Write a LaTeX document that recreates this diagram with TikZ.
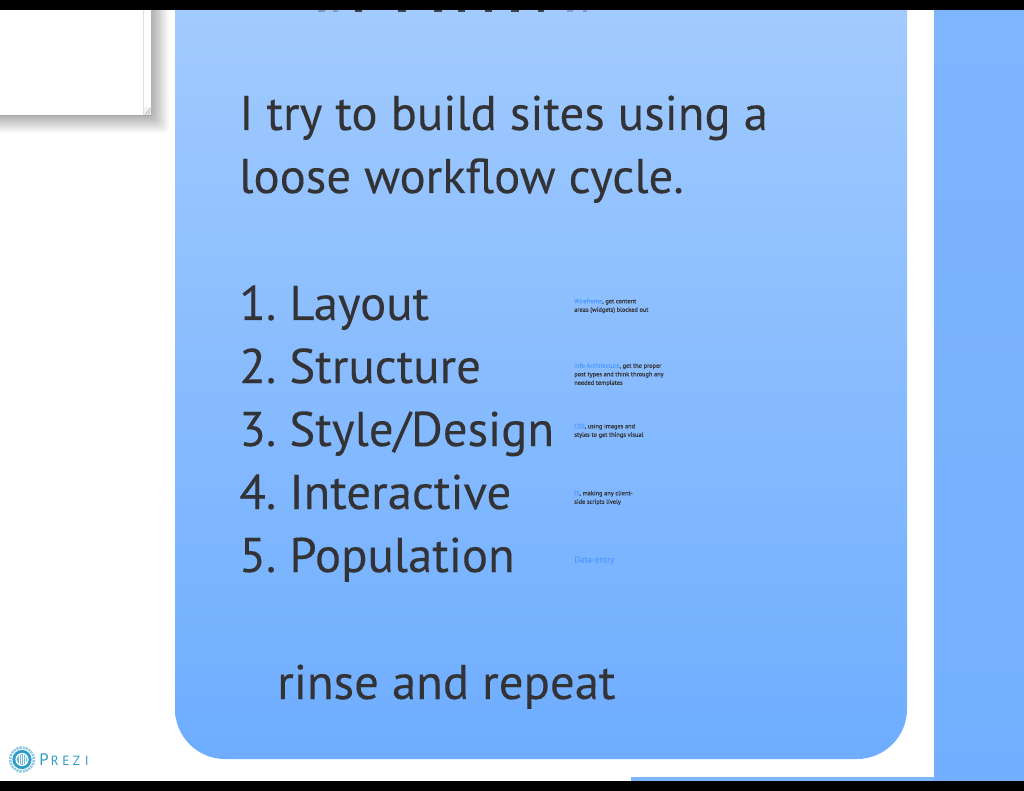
\documentclass[tikz,border=0pt]{standalone}
\usepackage{fontspec}
\setmainfont{PT Sans}
\newfontfamily\heavyfont[FakeBold=0.12]{PT Sans}
\definecolor{ink}{HTML}{333336}
\definecolor{topblue}{HTML}{A6CDFF}
\definecolor{botblue}{HTML}{6EADFF}
\definecolor{sidetop}{HTML}{7EB5FF}
\definecolor{sidebot}{HTML}{74AFFF}
\definecolor{linkblue}{HTML}{4F9BFF}
\definecolor{prezi}{HTML}{2E9CC8}
\tikzset{
  mainline/.style={anchor=base west,inner sep=0pt,text=ink,font=\heavyfont\fontsize{36.6}{36.6}\selectfont},
  smallnote/.style={anchor=north west,inner sep=0pt,text=ink,align=left,font=\heavyfont\fontsize{4.75}{6.4}\selectfont},
  logoletter/.style={inner sep=0pt,anchor=base west,text=prezi,font=\fontsize{10}{10}\selectfont}
}
\newcommand{\lk}[1]{\textcolor{linkblue}{#1}}
\newcommand{\numgap}{\hspace{-3.2pt}}
\begin{document}
\begin{tikzpicture}[x=0.75pt,y=-0.75pt]
\useasboundingbox (0,0) rectangle (1024,791);
\fill[white] (0,0) rectangle (1024,791);
% side band
\shade[top color=sidetop,bottom color=sidebot] (934,0) rectangle (1024,791);
\fill[sidetop] (631,777) rectangle (934,781);
% card
\shade[top color=topblue,bottom color=botblue,rounded corners=37.5pt] (175,-60) rectangle (907,759);
% popup with shadow
\foreach \i in {1,...,20}{
  \fill[black,opacity=0.016,rounded corners=3pt] (-20,0) rectangle (151+\i*0.9,115+\i*0.9);
}
\fill[white] (-5,0) rectangle (152,116);
\fill[black!12] (143,10) rectangle (144,116);
\fill[black!30] (150.5,10) rectangle (152,116);
\fill[black!35] (0,115) rectangle (152,116.5);
\fill[black!5] (143.5,107) rectangle (151,115);
\draw[black!35,line width=0.4pt] (145,114.5) -- (150.5,108.5) (147.5,114.5) -- (150.5,111.5);
% title fragments
\foreach \xa/\xb/\sh in {318/325/35,333/338/30,355/362/90,398/406/90,434/442/90,458/465/90,485/492/90,511/519/90,538/544/90,567/573/30,583/587/30}{
  \fill[ink!\sh!topblue] (\xa,9) rectangle (\xb,12.5);
}
% main text
\node[mainline] (l1) at (239,130) {I try to build sites using a};
\node[mainline] (l2) at (239,193) {loose workf{}low cycle.};
\node[mainline] (i1) at (239,320) {1.\numgap{} Layout};
\node[mainline] (i2) at (239,383) {2.\numgap{} Structure};
\node[mainline] (i3) at (239,446) {3.\numgap{} Style/Design};
\node[mainline] (i4) at (239,509) {4.\numgap{} Interactive};
\node[mainline] (i5) at (239,572) {5.\numgap{} Population};
\node[mainline] (rr) at (277,699) {rinse and repeat};
% notes
\node[smallnote] (n1) at (574,298.5) {\lk{Wireframe}, get content\\areas (widgets) blocked out};
\node[smallnote] (n2) at (574,363) {\lk{Info Architecture}, get the proper\\post types and think through any\\needed templates};
\node[smallnote] (n3) at (574,423.5) {\lk{CSS}, using images and\\styles to get things visual};
\node[smallnote] (n4) at (574,490.5) {\lk{JS}, making any client-\\side scripts lively};
\node[smallnote,font=\heavyfont\fontsize{6.6}{8}\selectfont,text=linkblue] (n5) at (574,556) {Data-entry};
% logo
\fill[prezi!55] (22,759.5) circle (13.2);
\fill[white] (22,759.5) circle (10.6);
\fill[prezi] (22,759.5) circle (9.6);
\fill[white] (22,759.5) circle (6.6);
\fill[prezi!70] (22,759.5) circle (5.4);
\foreach \d in {-3,-1,1,3}{\draw[white,line width=0.5pt] (22+\d,755) -- (22+\d,764);}
\foreach \a in {0,15,...,345}{\draw[white,line width=0.5pt] (22,759.5) ++(\a:10.6) -- ++(\a:3);}
\node[logoletter,font=\fontsize{12.5}{12.5}\selectfont] (p1) at (39,765) {P};
\node[logoletter] (p2) at (50.5,765) {R};
\node[logoletter] (p3) at (62,765) {E};
\node[logoletter] (p4) at (72.5,765) {Z};
\node[logoletter] (p5) at (84.5,765) {I};
% black bars
\fill[black] (0,0) rectangle (1024,10);
\fill[black] (0,781) rectangle (1024,791);
\end{tikzpicture}
\end{document}
